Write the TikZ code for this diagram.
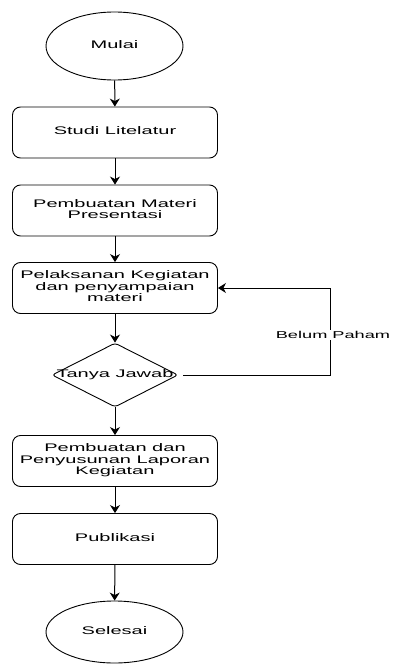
\documentclass[tikz,border=0pt]{standalone}
\usepackage{fontspec}
\setmainfont{Liberation Sans}
\usepackage{graphicx}
\usetikzlibrary{shapes.geometric,arrows.meta}
\newcommand{\wtxt}[1]{\scalebox{1.82}[1]{\begin{tabular}{@{}c@{}}#1\end{tabular}}}
\begin{document}
\begin{tikzpicture}[x=1pt,y=-1pt,
  base/.style={draw=black,line width=0.9pt,font=\fontsize{11}{11.4}\selectfont,inner sep=0pt},
  term/.style={base,ellipse,minimum width=137pt,minimum height=68pt},
  proc/.style={base,rectangle,rounded corners=8pt,minimum width=205pt,minimum height=51pt},
  conn/.style={draw=black,line width=1pt,-{Stealth[length=8pt,width=10pt,inset=2.5pt]}},
  lbl/.style={fill=white,inner sep=1pt,font=\fontsize{10}{11}\selectfont}]
\useasboundingbox (0,0) rectangle (392,664);
\node[term] (mulai) at (114.5,46) {\wtxt{Mulai}};
\node[proc] (studi) at (115,132.5) {\wtxt{Studi Litelatur}};
\node[proc] (materi) at (115,210.5) {\wtxt{Pembuatan Materi\\Presentasi}};
\node[proc] (pelaks) at (115,288) {\wtxt{Pelaksanan Kegiatan\\dan penyampaian\\materi}};
\node[base,diamond,rounded corners=3pt,minimum width=126pt,minimum height=64pt,inner sep=0pt] (tanya) at (115,375) {};
\node[font=\fontsize{11}{11.4}\selectfont] (tanyatxt) at (tanya) {\wtxt{Tanya Jawab}};
\node[proc] (lapor) at (115,461) {\wtxt{Pembuatan dan\\Penyusunan Laporan\\Kegiatan}};
\node[proc] (publik) at (115,539) {\wtxt{Publikasi}};
\node[term,minimum height=62pt] (selesai) at (114.5,632) {\wtxt{Selesai}};
\coordinate (cr) at (330,375);
\coordinate (ct) at (330,288);
\draw[conn] (mulai) -- (studi);
\draw[conn] (studi) -- (materi);
\draw[conn] (materi) -- (pelaks);
\draw[conn] (pelaks) -- (tanya);
\draw[conn] (tanya) -- (lapor);
\draw[conn] (lapor) -- (publik);
\draw[conn] (publik) -- (selesai);
\draw[conn] ([xshift=5pt]tanya.east) -- (cr) -- (ct) -- (pelaks.east);
\node[lbl] (belum) at (333,335) {\scalebox{1.82}[1]{Belum Paham}};
\end{tikzpicture}
\end{document}
